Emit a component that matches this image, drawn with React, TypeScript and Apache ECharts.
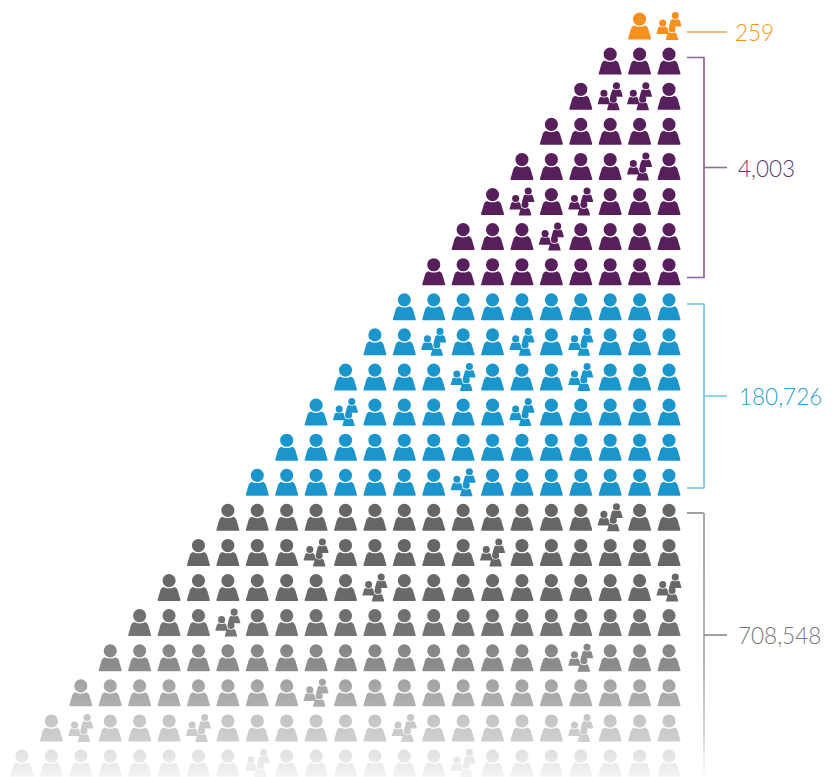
import React, { useEffect, useRef } from "react";
import * as echarts from "echarts";

const tierNames = ["Tier A", "Tier B", "Tier C", "Tier D"];
const tierLabels = ["259", "4,003", "180,726", "708,548"];
const tierRows = [[0], [1, 2, 3, 4, 5, 6, 7], [8, 9, 10, 11, 12, 13], [14, 15, 16, 17, 18, 19, 20, 21]];
const rowStartCols = [21, 20, 19, 18, 17, 16, 15, 14, 13, 12, 11, 10, 9, 8, 7, 6, 5, 4, 3, 2, 1, 0];
const groupCols = [[22], [], [20, 21], [], [21], [17, 19], [18], [], [], [14, 17, 19], [15, 19], [11, 17], [], [15], [20], [10, 16], [12, 22], [7], [19], [10], [2, 6, 13, 19], [8, 15]];
const rowTopColors = ["#f7901e", "#57205c", "#57205c", "#57205c", "#57205c", "#57205c", "#57205c", "#57205c", "#1a96cc", "#1a96cc", "#1a96cc", "#1a96cc", "#1a96cc", "#1a96cc", "#666666", "#666666", "#686868", "#6e6e6e", "#858585", "#a3a3a3", "#c4c4c4", "#e0e0e0"];
const rowBottomColors = ["#f7901e", "#57205c", "#57205c", "#57205c", "#57205c", "#57205c", "#57205c", "#57205c", "#1a96cc", "#1a96cc", "#1a96cc", "#1a96cc", "#1a96cc", "#1a96cc", "#666666", "#676767", "#6a6a6a", "#767676", "#8e8e8e", "#b0b0b0", "#cfcfcf", "#f4f4f4"];

const person = (x: number, y: number, s: number) => {
  const p = (a: number, b: number) => `${(x + a * s).toFixed(2)} ${(y + b * s).toFixed(2)}`;
  const r = (6.6 * s).toFixed(2);
  return (
    `M${p(4.9, 6.6)}A${r} ${r} 0 1 1 ${p(18.1, 6.6)}A${r} ${r} 0 1 1 ${p(4.9, 6.6)}Z` +
    `M${p(6.2, 13)}C${p(8, 14.8)} ${p(15, 14.8)} ${p(16.8, 13)}C${p(19.2, 13.8)} ${p(20.2, 15.5)} ${p(20.7, 18)}` +
    `L${p(23, 25.8)}Q${p(23.3, 27)} ${p(22, 27)}L${p(1, 27)}Q${p(-0.3, 27)} ${p(0, 25.8)}L${p(2.3, 18)}` +
    `C${p(2.8, 15.5)} ${p(3.8, 13.8)} ${p(6.2, 13)}Z`
  );
};
const personPath = "path://" + person(0, 0, 1);
const groupPath = "path://" + person(0, 7.5, 0.54) + person(12.6, 0, 0.54) + person(9.4, 13.4, 0.54);

const buildData = (rows: number[]) =>
  rows.flatMap((row) => {
    const items: any[] = [];
    for (let col = rowStartCols[row]; col <= 22; col++) {
      const isGroup = groupCols[row].includes(col);
      items.push({
        value: [col, row],
        symbol: isGroup ? groupPath : personPath,
        symbolSize: isGroup ? [25, 28] : [23, 27],
        itemStyle: {
          opacity: 1,
          color: new echarts.graphic.LinearGradient(0, 0, 0, 1, [
            { offset: 0, color: rowTopColors[row] },
            { offset: 1, color: rowBottomColors[row] },
          ]),
        },
      });
    }
    return items;
  });

const labelFont = '300 22.5px Lato, "Open Sans", sans-serif';

const App = () => {
  const ref = useRef<HTMLDivElement>(null);
  useEffect(() => {
    const chart = echarts.init(ref.current!, undefined, { renderer: "svg" });
    const hline = (x1: number, x2: number, y: number, stroke: string) => ({
      type: "line", shape: { x1, y1: y, x2, y2: y }, style: { stroke, lineWidth: 1.6 }, silent: true,
    });
    const vline = (x: number, y1: number, y2: number, stroke: string) => ({
      type: "line", shape: { x1: x, y1, x2: x, y2 }, style: { stroke, lineWidth: 1.8 }, silent: true,
    });
    const label = (x: number, y: number, text: string, fill: string) => ({
      type: "text", x, y, style: { text, fill, font: labelFont, textVerticalAlign: "middle", textBaseline: "middle" }, silent: true,
    });
    chart.setOption({
      animation: false,
      backgroundColor: "#ffffff",
      grid: { left: 22, top: 26, width: 647, height: 737 },
      xAxis: { type: "value", min: 0, max: 22, show: false },
      yAxis: { type: "value", min: 0, max: 21, inverse: true, show: false },
      series: tierNames.map((name, i) => ({
        name,
        type: "scatter",
        clip: false,
        silent: true,
        itemStyle: { opacity: 1 },
        data: buildData(tierRows[i]),
      })),
      graphic: [
        hline(687, 727, 32, "#f7a54a"),
        label(735, 32, tierLabels[0], "#f7901e"),
        hline(687, 704, 57.5, "#8f6c9a"),
        hline(687, 704, 277.5, "#8f6c9a"),
        vline(704, 57, 278, "#8f6c9a"),
        hline(704, 727, 167.5, "#8f6c9a"),
        label(738, 168, tierLabels[1], "#5f3a6b"),
        hline(687, 704, 304, "#7cc6e8"),
        hline(687, 704, 488, "#7cc6e8"),
        vline(704, 303.5, 488.5, "#7cc6e8"),
        hline(704, 727, 396, "#7cc6e8"),
        label(739, 396, tierLabels[2], "#2a9fd0"),
        hline(687, 704, 513, "#8a8a8a"),
        {
          type: "rect",
          shape: { x: 703, y: 513, width: 2, height: 264 },
          style: {
            fill: new echarts.graphic.LinearGradient(0, 0, 0, 1, [
              { offset: 0, color: "#a8a8a8" },
              { offset: 0.55, color: "#b4b4b4" },
              { offset: 0.85, color: "#d8d8d8" },
              { offset: 1, color: "#ffffff" },
            ]),
          },
          silent: true,
        },
        hline(704, 727, 635, "#8a8a8a"),
        label(738, 635, tierLabels[3], "#777777"),
      ],
    });
    return () => chart.dispose();
  }, []);
  return <div ref={ref} style={{ position: "absolute", left: 0, top: 0, width: 834, height: 777 }} />;
};

export default App;
